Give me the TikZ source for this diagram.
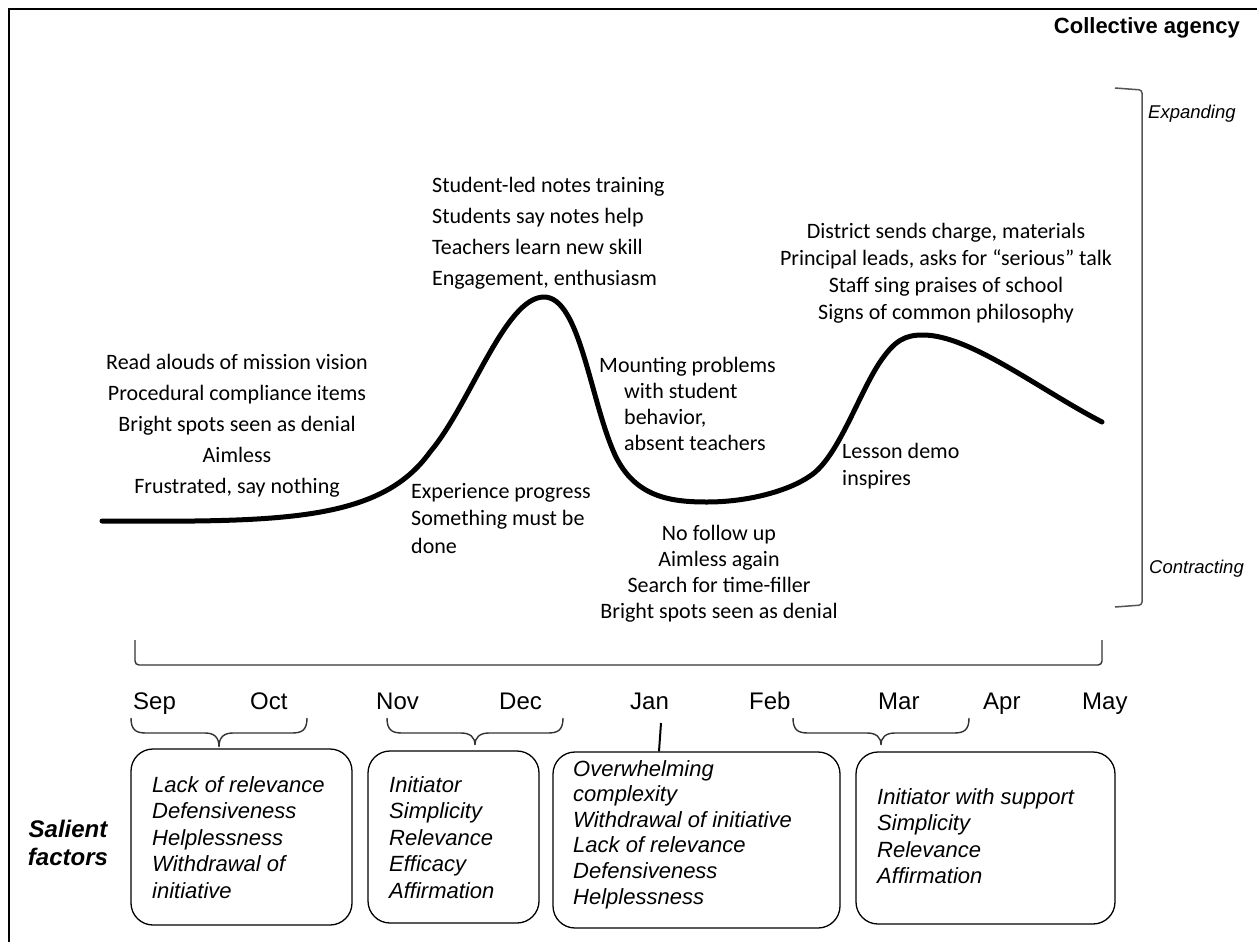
\documentclass[tikz,border=0pt]{standalone}
\usepackage{fontspec}
\setmainfont{Liberation Sans}
\newfontfamily\calfont{Carlito}
\newfontfamily\arialfont{Liberation Sans}
\definecolor{brk}{HTML}{555555}
\definecolor{hbrk}{HTML}{333333}
\newcommand\blockc[1]{\begin{tabular}[t]{@{}c@{}}#1\end{tabular}}
\newcommand\blockl[1]{\begin{tabular}[t]{@{}l@{}}#1\end{tabular}}
\tikzset{
  curvetxt/.style={font=\calfont\fontsize{22}{#1}\selectfont, inner sep=0pt},
  month/.style={font=\arialfont\fontsize{24}{28}\selectfont, inner sep=0pt, anchor=base west},
  factortxt/.style={font=\arialfont\itshape\fontsize{22}{26.5}\selectfont, inner sep=0pt, anchor=base west},
  factorbox/.style={draw=black, line width=1.3pt, rounded corners=22pt, inner sep=0pt},
  brace/.style={draw=hbrk, line width=1.4pt},
  axislabel/.style={font=\arialfont\itshape\fontsize{18.5}{22}\selectfont, inner sep=0pt, anchor=base west},
}
\begin{document}
\begin{tikzpicture}[x=1pt,y=-1pt]
\useasboundingbox (0,0) rectangle (1257,942);
\fill[white] (0,0) rectangle (1257,942);

% frame: top and left rules
\draw[line width=2.5pt] (1257,9) -- (9,9) -- (9,942);

% title
\node[font=\arialfont\bfseries\fontsize{22}{26}\selectfont, inner sep=0pt, anchor=base east] (title) at (1240,34) {Collective agency};

% vertical scale bracket
\draw[draw=brk, line width=1.5pt, rounded corners=3pt] (1115,88) -- (1142,90) -- (1142,605) -- (1115,607);
\node[axislabel] (expand) at (1148,118) {Expanding};
\node[axislabel] (contract) at (1149,573) {Contracting};

% agency curve
\draw[line width=5pt, line cap=round, line join=round]
  (102,521) .. controls (280,522) and (380,522) .. (430,452)
  .. controls (470,405) and (505,297) .. (544,297)
  .. controls (580,297) and (590,400) .. (615,455)
  .. controls (635,497) and (670,502) .. (707,502)
  .. controls (750,502) and (790,490) .. (810,476)
  .. controls (838,458) and (858,395) .. (880,362)
  .. controls (895,340) and (905,335) .. (923,335)
  .. controls (970,335) and (1040,390) .. (1102,422);

% annotations along the curve
\node[curvetxt=31, anchor=base] (start) at (237,369) {\blockc{Read alouds of mission vision\\Procedural compliance items\\Bright spots seen as denial\\Aimless\\Frustrated, say nothing}};
\node[curvetxt=31, anchor=base west] (peak) at (432,192) {\blockl{Student-led notes training\\Students say notes help\\Teachers learn new skill\\Engagement, enthusiasm}};
\node[curvetxt=26, anchor=base west] (fall) at (599,372) {\blockl{Mounting problems\\\hspace*{25pt}with student\\\hspace*{25pt}behavior,\\\hspace*{25pt}absent teachers}};
\node[curvetxt=27.5, anchor=base west] (rise) at (411,498) {\blockl{Experience progress\\Something must be\\done}};
\node[curvetxt=26, anchor=base] (trough) at (719,540) {\blockc{No follow up\\Aimless again\\Search for time-filler\\Bright spots seen as denial}};
\node[curvetxt=27, anchor=base west] (demo) at (842,458) {\blockl{Lesson demo\\inspires}};
\node[curvetxt=27, anchor=base] (plateau) at (946,238) {\blockc{District sends charge, materials\\Principal leads, asks for “serious” talk\\Staff sing praises of school\\Signs of common philosophy}};

% time axis bracket
\draw[draw=hbrk, line width=1.4pt, rounded corners=4pt] (135,640) -- (135,665) -- (1102,665) -- (1102,640);

% months
\node[month] (sep) at (133,709) {Sep};
\node[month] (oct) at (250,709) {Oct};
\node[month] (nov) at (376,709) {Nov};
\node[month] (dec) at (499,709) {Dec};
\node[month] (jan) at (630,709) {Jan};
\node[month] (feb) at (749,709) {Feb};
\node[month] (mar) at (878,709) {Mar};
\node[month] (apr) at (983,709) {Apr};
\node[month] (may) at (1082,709) {May};

% factor boxes
\node[factorbox, minimum width=221pt, minimum height=176pt] (f1) at (241.5,837) {};
\node[factorbox, minimum width=171pt, minimum height=172pt] (f2) at (453.5,837) {};
\node[factorbox, minimum width=287pt, minimum height=176pt] (f3) at (696.5,840) {};
\node[factorbox, minimum width=259pt, minimum height=172pt] (f4) at (985.5,838) {};

% braces from month spans to boxes
\draw[brace] (131,718) .. controls (131,730) and (136,733) .. (146,733) -- (205,733)
  .. controls (214,733) and (219,737) .. (219,747)
  .. controls (219,737) and (224,733) .. (233,733) -- (292,733)
  .. controls (302,733) and (307,730) .. (307,718);
\draw[brace] (387,718) .. controls (387,730) and (392,733) .. (402,733) -- (461,733)
  .. controls (470,733) and (475,737) .. (475,745)
  .. controls (475,737) and (480,733) .. (489,733) -- (548,733)
  .. controls (558,733) and (563,730) .. (563,718);
\draw[brace] (793,718) .. controls (793,730) and (798,733) .. (808,733) -- (867,733)
  .. controls (876,733) and (881,737) .. (881,745)
  .. controls (881,737) and (886,733) .. (895,733) -- (954,733)
  .. controls (964,733) and (969,730) .. (969,718);
\coordinate (jantick) at (661,723);
\draw[line width=2pt] (jantick) -- (f3.north -| 659,0);

% factor lists
\node[font=\arialfont\bfseries\itshape\fontsize{24}{28}\selectfont, inner sep=0pt, anchor=base] (salient) at (68,837) {\blockc{Salient\\factors}};
\node[factortxt] (t1) at (152,792) {\blockl{Lack of relevance\\Defensiveness\\Helplessness\\Withdrawal of\\initiative}};
\node[factortxt] (t2) at (389,792) {\blockl{Initiator\\Simplicity\\Relevance\\Efficacy\\Affirmation}};
\node[factortxt, font=\arialfont\itshape\fontsize{22}{25.6}\selectfont] (t3) at (573,776) {\blockl{Overwhelming\\complexity\\Withdrawal of initiative\\Lack of relevance\\Defensiveness\\Helplessness}};
\node[factortxt] (t4) at (877,804) {\blockl{Initiator with support\\Simplicity\\Relevance\\Affirmation}};
\end{tikzpicture}
\end{document}
